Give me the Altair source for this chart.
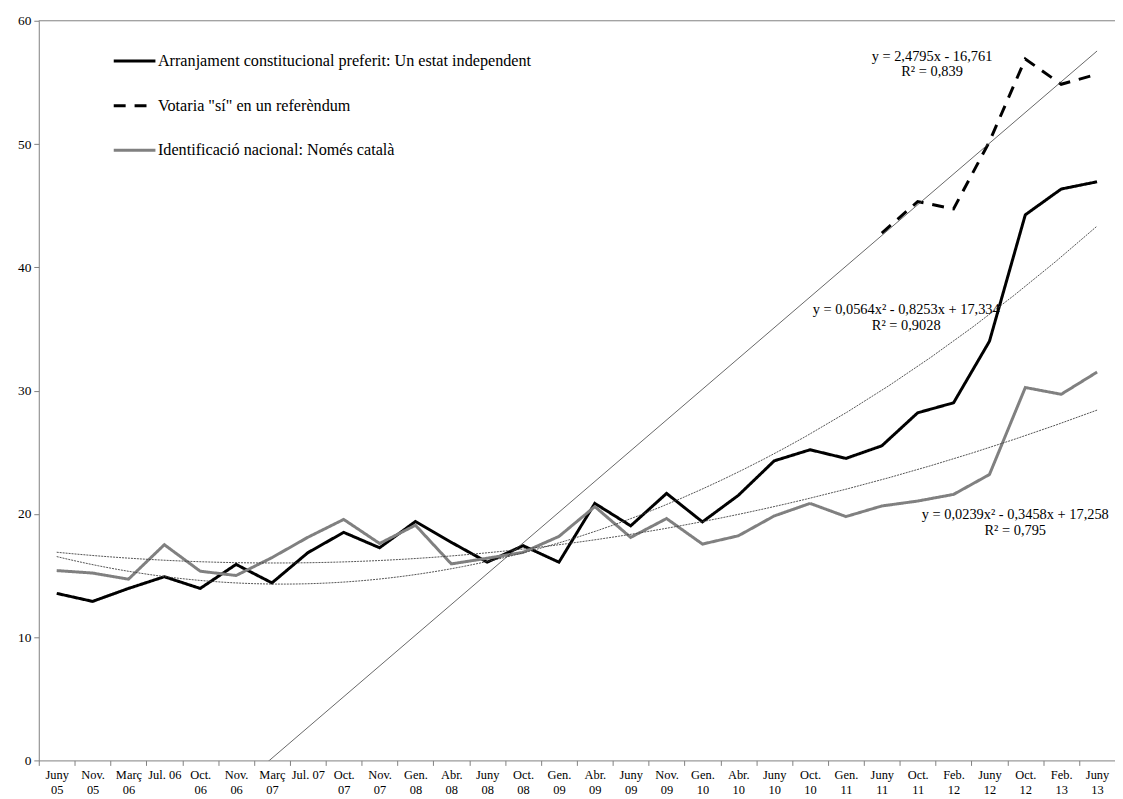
import json
import altair as alt
import pandas as pd

# ---------------- data ----------------
cats = ["Juny|05", "Nov.|05", "Març|06", "Jul. 06", "Oct.|06", "Nov.|06", "Març|07",
        "Jul. 07", "Oct.|07", "Nov.|07", "Gen.|08", "Abr.|08", "Juny|08", "Oct.|08",
        "Gen.|09", "Abr.|09", "Juny|09", "Nov.|09", "Gen.|10", "Abr.|10", "Juny|10",
        "Oct.|10", "Gen.|11", "Juny|11", "Oct.|11", "Feb.|12", "Juny|12", "Oct.|12",
        "Feb.|13", "Juny|13"]

s1 = "Arranjament constitucional preferit: Un estat independent"
s2 = 'Votaria "sí" en un referèndum'
s3 = "Identificació nacional: Només català"
series = [s1, s2, s3]

indep = [13.55, 12.9, 13.95, 14.9, 13.95, 15.9, 14.4, 16.85, 18.5, 17.25,
         19.38, 17.69, 16.08, 17.42, 16.08, 20.85, 19.03, 21.66, 19.35, 21.5,
         24.3, 25.2, 24.5, 25.52, 28.2, 29.01, 34.0, 44.26, 46.35, 46.94]

referendum = [None] * 23 + [42.78, 45.33, 44.74, 50.2, 56.9, 54.85, 55.66]

nomes = [15.4, 15.2, 14.7, 17.5, 15.35, 15.0, 16.45, 18.1, 19.55, 17.6,
         19.08, 15.94, 16.4, 16.88, 18.17, 20.59, 18.09, 19.62, 17.55, 18.22,
         19.83, 20.85, 19.78, 20.64, 21.04, 21.58, 23.19, 30.25, 29.7, 31.5]

ann_text = ["y = 2,4795x - 16,761\nR² = 0,839",
            "y = 0,0564x² - 0,8253x + 17,334\nR² = 0,9028",
            "y = 0,0239x² - 0,3458x + 17,258\nR² = 0,795"]
ann_x = [25.40, 24.68, 27.72]
ann_y = [57.09, 36.55, 19.89]

y_ticks = [0, 10, 20, 30, 40, 50, 60]

# ---------------- tables ----------------
rows = []
for name, vals in zip(series, [indep, referendum, nomes]):
    for i, v in enumerate(vals):
        if v is not None:
            rows.append({"idx": i + 1, "serie": name, "value": v})
df = pd.DataFrame(rows)
df_ann = pd.DataFrame({"x": ann_x, "y": ann_y, "text": ann_text})
df_top = pd.DataFrame({"y": [60]})

FONT = "Liberation Serif"
W, H = 1084, 745
n = len(cats)

xscale = alt.Scale(domain=[0.5, n + 0.5], nice=False, zero=False)
yscale = alt.Scale(domain=[0, 60], nice=False, zero=True)

label_expr = ("datum.value < %d ? split(%s[datum.value - 0.5], '|') : ''"
              % (n, json.dumps(cats, ensure_ascii=False)))

xaxis = alt.Axis(values=[i + 0.5 for i in range(n + 1)], labelExpr=label_expr,
                 labelOffset=W / n / 2, labelFlush=False, labelOverlap=False,
                 labelBound=False, tickSize=5, tickColor="#808080",
                 domainColor="#808080", labelColor="#000000", labelFont=FONT,
                 labelFontSize=12.5, labelLineHeight=15, labelPadding=3,
                 labelBaseline="top", title=None, grid=False)
yaxis = alt.Axis(values=y_ticks, tickSize=5, tickColor="#808080",
                 domainColor="#808080", labelColor="#000000", labelFont=FONT,
                 labelFontSize=13.5, labelPadding=3, title=None, grid=False,
                 format="d", labelOverlap=False)

legend = alt.Legend(orient="none", legendX=74, legendY=18, title=None,
                    symbolType="stroke", symbolSize=1764, symbolStrokeWidth=3,
                    labelFont=FONT, labelFontSize=16.3, labelColor="#000000",
                    labelLimit=800, rowPadding=14, labelOffset=1, padding=0)


def X(field):
    return alt.X(field, scale=xscale, axis=xaxis)


def Y(field):
    return alt.Y(field, scale=yscale, axis=yaxis)


base = alt.Chart(df)

lines = base.mark_line(strokeWidth=3).encode(
    x=X("idx:Q"),
    y=Y("value:Q"),
    color=alt.Color("serie:N", scale=alt.Scale(domain=series,
                    range=["#000000", "#000000", "#808080"]), legend=legend),
    strokeDash=alt.StrokeDash("serie:N", scale=alt.Scale(domain=series,
                    range=[[1, 0], [12, 9], [1, 0]]), legend=legend),
)


def trend(name, method, dash):
    ch = base.transform_filter(alt.FieldEqualPredicate(field="serie", equal=name))
    if method == "linear":
        ch = ch.transform_regression("idx", "value", method="linear", extent=[1, n])
    else:
        ch = ch.transform_regression("idx", "value", method="poly", order=2, extent=[1, n])
    kw = dict(color="#404040", strokeWidth=0.8 if dash is None else 0.9, clip=True)
    if dash is not None:
        kw["strokeDash"] = dash
    return ch.mark_line(**kw).encode(x=X("idx:Q"), y=Y("value:Q"))


lin = trend(s2, "linear", None)
poly1 = trend(s1, "poly", [2, 1])
poly3 = trend(s3, "poly", [2, 1])

ann = alt.Chart(df_ann).mark_text(font=FONT, fontSize=14.5, align="center",
                                  baseline="middle", lineBreak="\n", lineHeight=16,
                                  color="#000000").encode(
    x=X("x:Q"), y=Y("y:Q"), text="text:N")

top = alt.Chart(df_top).mark_rule(color="#808080", strokeWidth=1).encode(y=Y("y:Q"))

chart = alt.layer(lines, top, lin, poly1, poly3, ann).properties(
    width=W, height=H,
    autosize=alt.AutoSizeParams(type="none"),
    padding={"left": 31, "top": 10, "right": 0, "bottom": 36},
    background="white",
).configure_view(stroke=None).configure_axis(labelOverlap=False)

chart.save("out.html", embed_options={"renderer": "svg", "actions": False})
